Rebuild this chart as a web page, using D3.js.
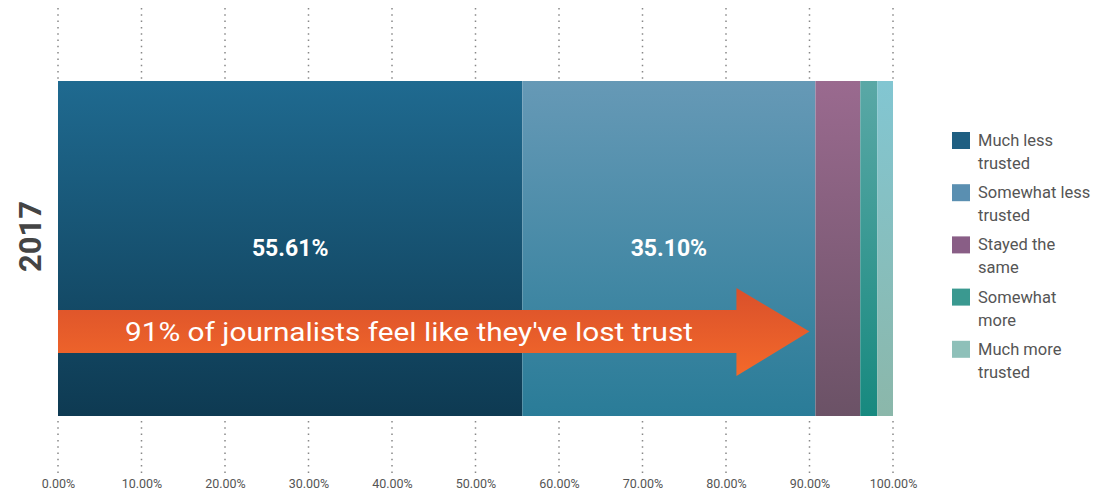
<!DOCTYPE html>
<html>
<head>
<meta charset="utf-8">
<script src="https://cdn.jsdelivr.net/npm/d3@7/dist/d3.min.js"></script>
<style>
  body { margin: 0; background: #fff; }
  text { font-family: Roboto, "Open Sans", sans-serif; }
</style>
</head>
<body>
<div id="chart"></div>
<script>
// data
const years = ["2017"];
const categories = ["Much less trusted", "Somewhat less trusted", "Stayed the same", "Somewhat more", "Much more trusted"];
const legendLines = [["Much less", "trusted"], ["Somewhat less", "trusted"], ["Stayed the", "same"], ["Somewhat", "more"], ["Much more", "trusted"]];
const values = [55.61, 35.10, 5.37, 2.03, 1.89];
const barLabels = ["55.61%", "35.10%", "", "", ""];
const tickValues = [0, 10, 20, 30, 40, 50, 60, 70, 80, 90, 100];
const arrowText = "91% of journalists feel like they've lost trust";

const width = 1113, height = 498;
const margin = {top: 81, right: 220, bottom: 82, left: 58};

const topColors = ["#1f6a90", "#6699b6", "#9a6a8f", "#5aa8a6", "#82c6d2"];
const bottomColors = ["#0e3a52", "#2a7c98", "#6b5266", "#17897f", "#8bb7aa"];
const legendColors = ["#1f5f82", "#5a8fb1", "#895e86", "#3a9990", "#8ec0b9"];

const svg = d3.select("#chart").append("svg")
    .attr("width", width)
    .attr("height", height);

const x = d3.scaleLinear()
    .domain([0, 100])
    .range([margin.left, 893]);

const y = d3.scaleBand()
    .domain(years)
    .range([margin.top, 416])
    .padding(0);

// gradients
const defs = svg.append("defs");
categories.forEach(function(c, i) {
    const g = defs.append("linearGradient")
        .attr("id", "grad" + i)
        .attr("x1", 0).attr("y1", 0).attr("x2", 0).attr("y2", 1);
    g.append("stop").attr("offset", "0%").attr("stop-color", topColors[i]);
    g.append("stop").attr("offset", "100%").attr("stop-color", bottomColors[i]);
});
const ag = defs.append("linearGradient")
    .attr("id", "arrowGrad")
    .attr("x1", 0).attr("y1", 0).attr("x2", 0).attr("y2", 1);
ag.append("stop").attr("offset", "0%").attr("stop-color", "#d9502b");
ag.append("stop").attr("offset", "100%").attr("stop-color", "#f4692a");

// dotted grid lines above and below the bar
const gridTop = svg.append("g");
gridTop.selectAll("line")
    .data(tickValues)
    .enter()
    .append("line")
    .attr("x1", d => x(d)).attr("x2", d => x(d))
    .attr("y1", 8).attr("y2", y.range()[0])
    .attr("stroke", "#888")
    .attr("stroke-width", 1.5)
    .attr("stroke-dasharray", "1.5,4.8");

const gridBottom = svg.append("g");
gridBottom.selectAll("line")
    .data(tickValues)
    .enter()
    .append("line")
    .attr("x1", d => x(d)).attr("x2", d => x(d))
    .attr("y1", 421).attr("y2", 473)
    .attr("stroke", "#888")
    .attr("stroke-width", 1.5)
    .attr("stroke-dasharray", "1.5,4.8");

// stacked segments
let cum = 0;
const segs = values.map(function(v, i) {
    const s = {i: i, x0: cum, x1: cum + v, label: barLabels[i]};
    cum += v;
    return s;
});

svg.append("g").selectAll("rect")
    .data(segs)
    .enter()
    .append("rect")
    .attr("x", d => x(d.x0))
    .attr("y", y("2017"))
    .attr("width", d => x(d.x1) - x(d.x0))
    .attr("height", y.bandwidth())
    .attr("fill", d => "url(#grad" + d.i + ")");

svg.append("g").selectAll("text")
    .data(segs.filter(d => d.label))
    .enter()
    .append("text")
    .attr("x", d => (x(d.x0) + x(d.x1)) / 2)
    .attr("y", 256)
    .attr("text-anchor", "middle")
    .attr("fill", "#fff")
    .style("font-size", "23px")
    .style("font-weight", "bold")
    .text(d => d.label);

// arrow annotation
const tip = x(values[0] + values[1]) - 6;
const ax0 = x(0), bodyTop = 310, bodyBot = 353, headTop = 288, headBot = 376, headX = tip - 73;
const midY = (bodyTop + bodyBot) / 2;
svg.append("path")
    .attr("d", `M${ax0},${bodyTop} L${headX},${bodyTop} L${headX},${headTop} L${tip},${midY} L${headX},${headBot} L${headX},${bodyBot} L${ax0},${bodyBot} Z`)
    .attr("fill", "url(#arrowGrad)");

svg.append("text")
    .attr("x", 125)
    .attr("y", 341)
    .attr("fill", "#fff")
    .attr("textLength", 568)
    .attr("lengthAdjust", "spacingAndGlyphs")
    .style("font-size", "26px")
    .text(arrowText);

// y label
svg.append("text")
    .attr("transform", `translate(41, ${y("2017") + y.bandwidth() / 2 - 12}) rotate(-90)`)
    .attr("text-anchor", "middle")
    .attr("fill", "#444")
    .style("font-size", "31px")
    .style("font-weight", "bold")
    .text(years[0]);

// x axis tick labels
const xAxis = d3.axisBottom(x)
    .tickValues(tickValues)
    .tickSize(0)
    .tickFormat(d => d.toFixed(2) + "%");

const axisG = svg.append("g")
    .attr("transform", "translate(0, 476)")
    .call(xAxis);
axisG.select(".domain").remove();
axisG.selectAll("text")
    .attr("fill", "#555")
    .style("font-size", "12.5px")
    .style("font-family", "Roboto, sans-serif");

// legend
const legend = svg.append("g")
    .attr("transform", "translate(952, 132)");

const item = legend.selectAll("g")
    .data(categories)
    .enter()
    .append("g")
    .attr("transform", (d, i) => `translate(0, ${i * 52.2})`);

item.append("rect")
    .attr("width", 18)
    .attr("height", 17)
    .attr("fill", (d, i) => legendColors[i]);

item.append("text")
    .attr("x", 26)
    .attr("fill", "#555")
    .style("font-size", "16.5px")
    .selectAll("tspan")
    .data((d, i) => legendLines[i])
    .enter()
    .append("tspan")
    .attr("x", 26)
    .attr("y", (d, j) => 14 + j * 23)
    .text(d => d);
</script>
</body>
</html>
